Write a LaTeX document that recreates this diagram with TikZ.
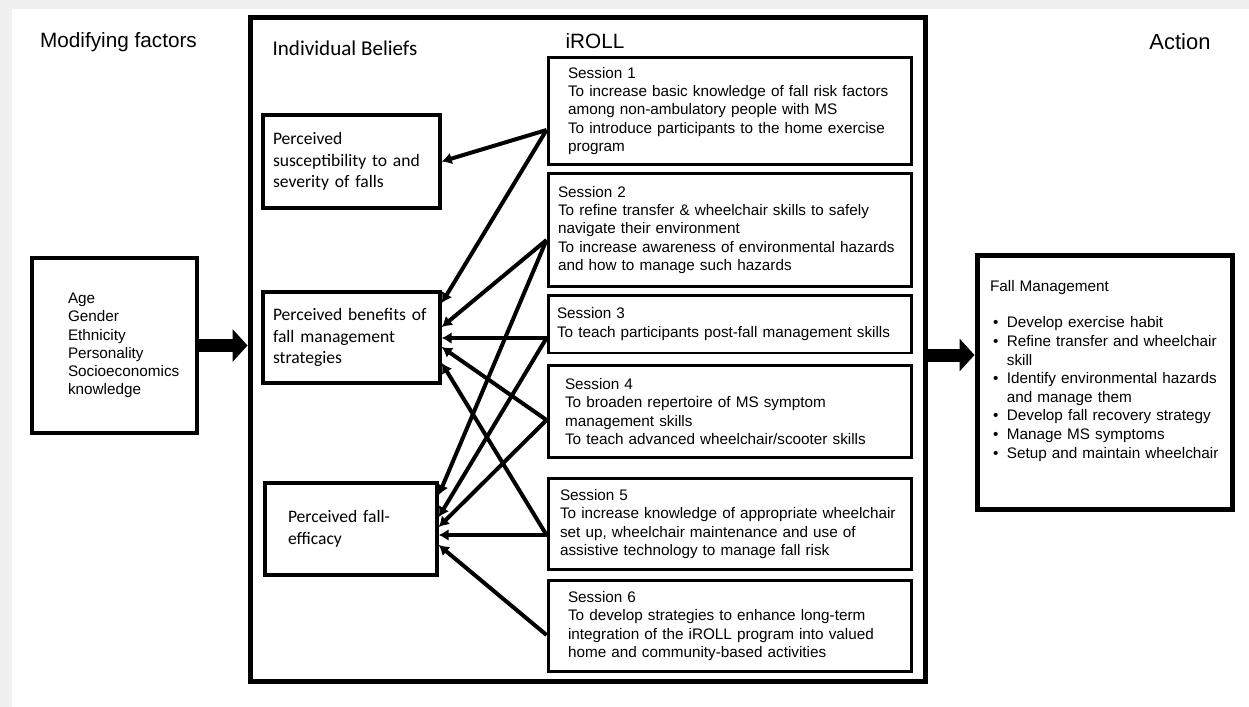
\documentclass[tikz,border=0pt]{standalone}
\usepackage{fontspec}
\setmainfont{Liberation Sans}
\newfontfamily\calibri{Carlito}
\usetikzlibrary{arrows.meta,calc}

\begin{document}
\begin{tikzpicture}[
    x=0.02cm, y=-0.02cm,
    factor/.style={draw, line width=0.07cm, align=left,
                   font=\fontsize{8.7}{10.4}\selectfont},
    session/.style={draw, line width=0.06cm, align=left, minimum width=7.28cm,
                    font=\fontsize{8.7}{10.4}\selectfont},
    belief/.style={draw, line width=0.07cm, align=left,
                   font=\calibri\fontsize{10}{12.3}\selectfont},
    outcome/.style={draw, line width=0.1cm, align=left,
                    minimum width=5.12cm, minimum height=5.1cm, text width=4.6cm,
                    font=\fontsize{8.7}{10.6}\selectfont},
    heading/.style={anchor=base, font=\fontsize{11.8}{14}\selectfont},
    arr/.style={-{Latex[length=0.2cm,width=0.24cm]}, line width=0.08cm},
    blockarr/.style={-{Triangle[length=0.3cm,width=0.64cm]}, line width=0.26cm},
]
\useasboundingbox (0,0) rectangle (1249,707);

% grey page edge
\fill[gray!12] (0,0) rectangle (1249,9);
\fill[gray!12] (0,0) rectangle (12,707);

% column headings
\node[heading] (hmod) at (118.5,47) {Modifying factors};
\node[heading, font=\calibri\fontsize{12}{14}\selectfont] (hbel) at (345,55) {Individual Beliefs};
\node[heading] (hiroll) at (595,48) {iROLL};
\node[heading, font=\fontsize{12.5}{14}\selectfont] (hact) at (1180,49) {Action};

% the programme frame
\node[draw, line width=0.1cm, minimum width=13.52cm, minimum height=13.3cm] (iroll) at (588,349.5) {};

% modifying factors
\node[factor, text width=1.86cm, minimum width=3.3cm, minimum height=3.5cm] (mod) at (114.5,345.5)
    {Age\\Gender\\Ethnicity\\Personality\\Socioeconomics\\knowledge};

% individual beliefs
\node[belief, text width=3.14cm, minimum width=3.54cm, minimum height=1.86cm] (sus) at (351.5,161.5)
    {Perceived\\susceptibility to and\\severity of falls};
\node[belief, text width=3.14cm, minimum width=3.54cm, minimum height=1.82cm] (ben) at (351.5,337.5)
    {Perceived benefits of\\fall management\\strategies};
\node[belief, text width=2.52cm, minimum width=3.44cm, minimum height=1.84cm] (eff) at (351,529)
    {Perceived fall-\\efficacy};

% sessions
\node[session, text width=6.48cm, minimum height=2.16cm] (S1) at (730,111)
    {Session 1\\To increase basic knowledge of fall risk factors\\among non-ambulatory people with MS\\To introduce participants to the home exercise\\program};
\node[session, text width=6.88cm, minimum height=2.28cm] (S2) at (730,230)
    {Session 2\\To refine transfer \& wheelchair skills to safely\\navigate their environment\\To increase awareness of environmental hazards\\and how to manage such hazards};
\node[session, text width=6.92cm, minimum height=1.16cm] (S3) at (730,324)
    {Session 3\\To teach participants post-fall management skills};
\node[session, text width=6.6cm, minimum height=1.86cm] (S4) at (730,411.5)
    {Session 4\\To broaden repertoire of MS symptom\\management skills\\To teach advanced wheelchair/scooter skills};
\node[session, text width=6.8cm, minimum height=1.84cm] (S5) at (730,524)
    {Session 5\\To increase knowledge of appropriate wheelchair\\set up, wheelchair maintenance and use of\\assistive technology to manage fall risk};
\node[session, text width=6.48cm, minimum height=1.84cm] (S6) at (730,626)
    {Session 6\\To develop strategies to enhance long-term\\integration of the iROLL program into valued\\home and community-based activities};

% action
\node[outcome] (fall) at (1105,382.5) {Fall Management\\[9.8pt]
    \begin{tabular}[t]{@{\hspace{0.06cm}}l@{\hspace{0.17cm}}l@{}}
    \textbullet & Develop exercise habit\\
    \textbullet & Refine transfer and wheelchair\\
                & skill\\
    \textbullet & Identify environmental hazards\\
                & and manage them\\
    \textbullet & Develop fall recovery strategy\\
    \textbullet & Manage MS symptoms\\
    \textbullet & Setup and maintain wheelchair
    \end{tabular}\\ \strut};

% block arrows
\coordinate (fin) at ($(fall.west)+(0,-27.5)$);
\draw[blockarr] (mod.east) -- (mod.east -| iroll.west);
\draw[blockarr] (fin -| iroll.east) -- (fin);

% exit points on the sessions
\coordinate (o1) at ($(S1.west)+(0,19)$);
\coordinate (o2) at ($(S2.west)+(0,10)$);
\coordinate (o3) at ($(S3.west)+(0,14)$);
\coordinate (o4) at ($(S4.west)+(0,8.5)$);
\coordinate (o5) at ($(S5.west)+(0,11)$);
\coordinate (o6) at ($(S6.west)+(0,9)$);

% sessions -> beliefs
\draw[arr] (o1) -- (sus.east);
\draw[arr] (o1) -- ($(ben.east)+(0,-34.5)$);
\draw[arr] (o2) -- ($(ben.east)+(0,-10.5)$);
\draw[arr] (o3) -- (o3 -| ben.east);
\draw[arr] (o4) -- ($(ben.east)+(0,9.5)$);
\draw[arr] (o5) -- ($(ben.east)+(0,25.5)$);
\draw[arr] (o2) -- ($(eff.east)+(0,-34)$);
\draw[arr] (o3) -- ($(eff.east)+(0,-12)$);
\draw[arr] (o4) -- ($(eff.east)+(0,-2)$);
\draw[arr] (o5) -- (o5 -| eff.east);
\draw[arr] (o6) -- ($(eff.east)+(0,16)$);

\end{tikzpicture}
\end{document}
